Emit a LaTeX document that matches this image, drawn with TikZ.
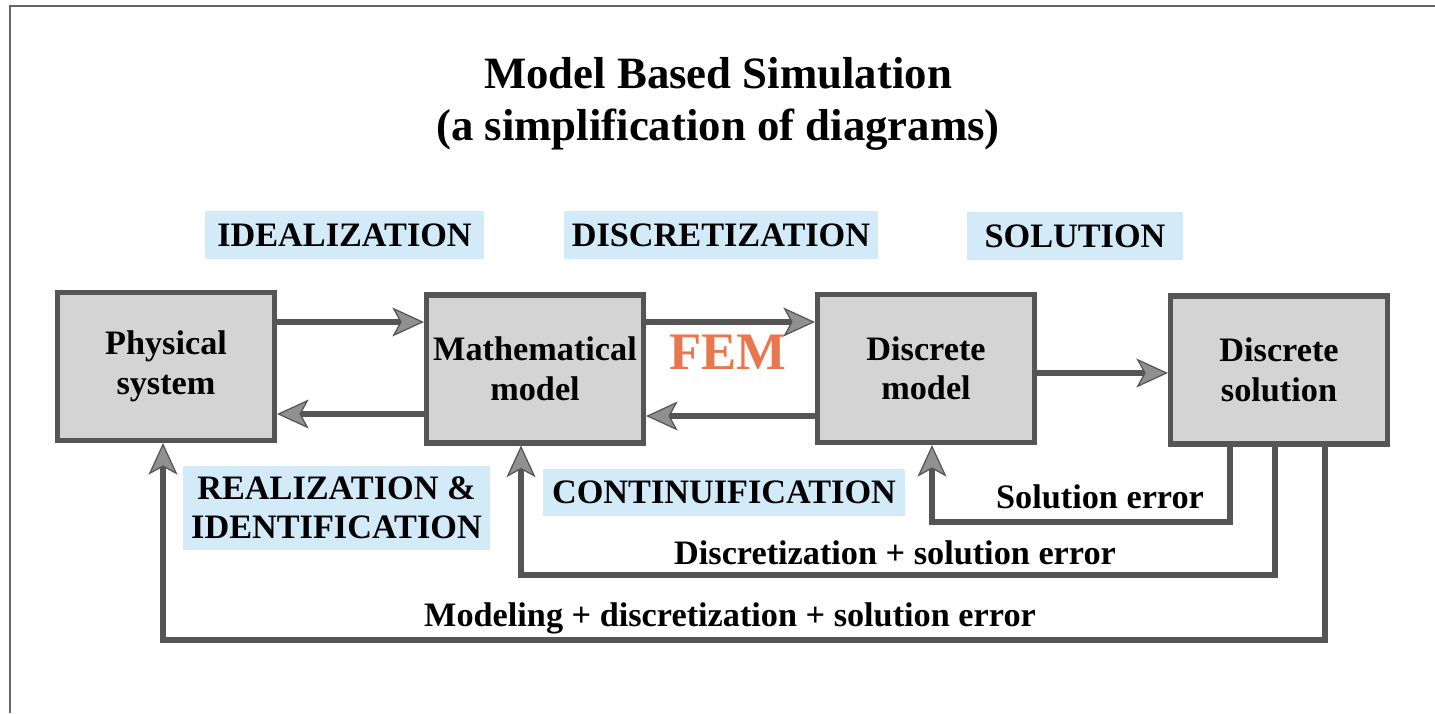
\documentclass[tikz,border=0pt]{standalone}
\usepackage{fontspec}
\setmainfont{Liberation Serif}
\usetikzlibrary{arrows.meta}
\definecolor{ln}{HTML}{555555}
\definecolor{framec}{HTML}{666666}
\definecolor{boxfill}{HTML}{D4D4D4}
\definecolor{tipfill}{HTML}{909090}
\definecolor{lblue}{HTML}{D3EAF8}
\definecolor{femc}{HTML}{E8774F}
\newcommand{\lblfont}{\fontsize{19.5}{22.5}\selectfont\bfseries}
\begin{document}
\begin{tikzpicture}[x=0.02cm, y=-0.02cm,
  block/.style={draw=ln, line width=2.9pt, fill=boxfill, minimum width=4.34cm, minimum height=2.96cm, align=center, font=\lblfont, inner sep=0pt},
  tag/.style={fill=lblue, font=\lblfont, align=center, inner sep=0pt},
  errlbl/.style={font=\lblfont, inner sep=0pt},
  arr/.style={draw=ln, line width=3.6pt, -{Stealth[length=18pt, width=16.5pt, inset=4.5pt, fill=tipfill, color=ln, line width=0.7pt]}}]
\useasboundingbox (0,0) rectangle (1435,713);
\draw[framec, line width=1.7pt] (10,713) -- (10,6) -- (1435,6);

\node[font=\fontsize{25.5}{29.5}\selectfont\bfseries, align=center] (title) at (718,104) {Model Based Simulation\\(a simplification of diagrams)};

\node[block] (phys) at (166,366.5) {Physical\\system};
\node[block] (math) at (535,369) {Mathematical\\model};
\node[block] (dmod) at (926,368.5) {Discrete\\model};
\node[block] (dsol) at (1279,370) {Discrete\\solution};

\node[tag, minimum width=5.58cm, minimum height=0.96cm] (ideal) at (344.5,235) {IDEALIZATION};
\node[tag, minimum width=6.28cm, minimum height=0.96cm] (discr) at (721,235) {DISCRETIZATION};
\node[tag, minimum width=4.32cm, minimum height=0.96cm] (solu) at (1075,236) {SOLUTION};
\node[tag, minimum width=6.14cm, minimum height=1.68cm] (real) at (336.5,508) {REALIZATION \&\\IDENTIFICATION};
\node[tag, minimum width=7.24cm, minimum height=0.94cm] (cont) at (724,492.5) {CONTINUIFICATION};

\node[text=femc, font=\fontsize{30}{30}\selectfont\bfseries, inner sep=0pt] (fem) at (728,352) {FEM};

\draw[arr] (phys.east |- 0,322) -- (math.west |- 0,322);
\draw[arr] (math.west |- 0,414) -- (phys.east |- 0,414);
\draw[arr] (math.east |- 0,322) -- (dmod.west |- 0,322);
\draw[arr] (dmod.west |- 0,416) -- (math.east |- 0,416);
\draw[arr] (dmod.east |- 0,373) -- (dsol.west |- 0,373);

\coordinate (c1) at (932,522);
\coordinate (c2) at (521,575);
\coordinate (c3) at (163,640);
\draw[arr] (dsol.south -| 1230,0) |- (c1) -- (dmod.south -| c1);
\draw[arr] (dsol.south -| 1275,0) |- (c2) -- (math.south -| c2);
\draw[arr] (dsol.south -| 1325,0) |- (c3) -- (phys.south -| c3);

\node[errlbl] (e1) at (1100,497) {Solution error};
\node[errlbl] (e2) at (895,553) {Discretization + solution error};
\node[errlbl] (e3) at (730,618) {Modeling + discretization + solution error};
\end{tikzpicture}
\end{document}
